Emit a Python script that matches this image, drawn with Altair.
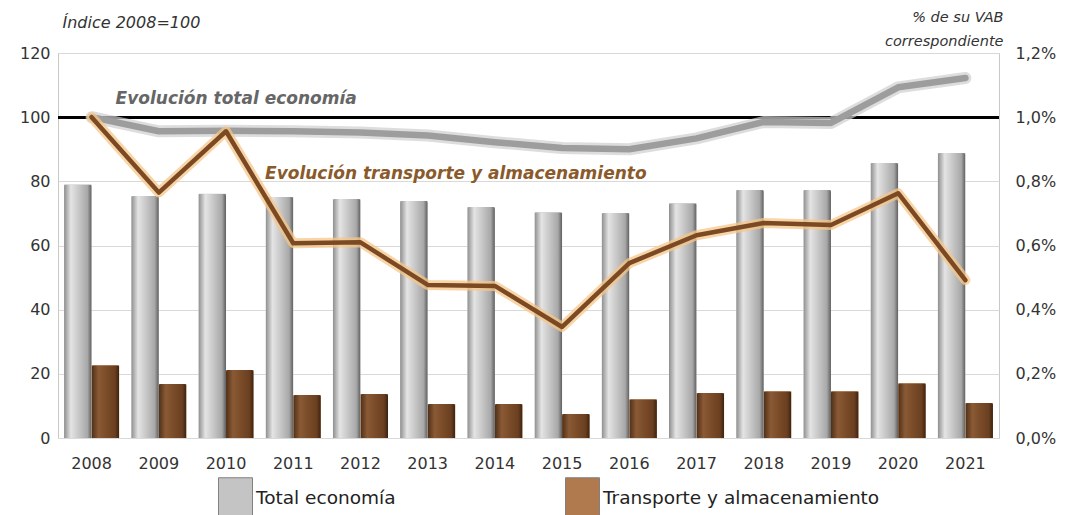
import altair as alt
import pandas as pd

# ---------------- data ----------------
years = [2008, 2009, 2010, 2011, 2012, 2013, 2014, 2015, 2016, 2017, 2018, 2019, 2020, 2021]
# % of its corresponding GVA (right axis, bars)
total_pct = [0.79, 0.754, 0.761, 0.751, 0.745, 0.739, 0.72, 0.704, 0.701, 0.732, 0.773, 0.773, 0.857, 0.888]
transp_pct = [0.227, 0.168, 0.212, 0.134, 0.137, 0.106, 0.106, 0.075, 0.121, 0.14, 0.146, 0.146, 0.171, 0.109]
# Index 2008=100 (left axis, lines)
total_idx = [100, 95.6, 95.8, 95.6, 95.2, 94.3, 92.2, 90.4, 90.0, 93.4, 98.5, 98.2, 109.3, 112.2]
transp_idx = [100, 76.5, 95.6, 60.7, 61.0, 47.7, 47.4, 34.6, 54.5, 63.2, 67.0, 66.4, 76.3, 49.2]

series_names = ["Total economía", "Transporte y almacenamiento"]
ann_labels = ["Evolución total economía", "Evolución transporte y almacenamiento"]
ann_years = [2008, 2010]
ann_values = [105.8, 82.3]

FONT = "DejaVu Sans"

bars_df = pd.DataFrame({
    "year": years * 2,
    "serie": [series_names[0]] * len(years) + [series_names[1]] * len(years),
    "value": total_pct + transp_pct,
})
tot_line = pd.DataFrame({"year": years, "idx": total_idx})
tr_line = pd.DataFrame({"year": years, "idx": transp_idx})
ann1 = pd.DataFrame({"year": [ann_years[0]], "idx": [ann_values[0]], "label": [ann_labels[0]]})
ann2 = pd.DataFrame({"year": [ann_years[1]], "idx": [ann_values[1]], "label": [ann_labels[1]]})

# ---------------- shared encodings ----------------
x_enc = alt.X("year:O", title=None,
              scale=alt.Scale(paddingInner=0.18, paddingOuter=0.09),
              axis=alt.Axis(labelAngle=0, ticks=False, domain=False, labelFont=FONT,
                            labelFontSize=16, labelColor="#333333", labelPadding=17))
xoff = alt.XOffset("serie:N", sort=series_names,
                   scale=alt.Scale(domain=series_names, paddingInner=0))

right_axis = alt.Axis(orient="right", values=[0, 0.2, 0.4, 0.6, 0.8, 1.0, 1.2], grid=False,
                      ticks=False, domain=False, labelFont=FONT, labelFontSize=16,
                      labelColor="#333333", labelPadding=16,
                      labelExpr="replace(format(datum.value, '.1f'), '.', ',') + '%'",
                      title=["% de su VAB", "correspondiente"], titleAngle=0,
                      titleAlign="right", titleBaseline="top", titleX=4, titleY=-43,
                      titleFont=FONT, titleFontSize=14.5, titleFontStyle="italic",
                      titleFontWeight="normal", titleColor="#333333", titleLineHeight=24)
y_bar = alt.Y("value:Q", scale=alt.Scale(domain=[0, 1.2]), axis=right_axis)

left_axis = alt.Axis(orient="left", values=[0, 20, 40, 60, 80, 100, 120], grid=True,
                     gridColor="#d9d9d9", gridWidth=1, ticks=False, domain=False,
                     labelFont=FONT, labelFontSize=16, labelColor="#333333", labelPadding=8,
                     title="Índice 2008=100", titleAngle=0, titleAlign="left",
                     titleBaseline="middle", titleX=4, titleY=-31, titleFont=FONT,
                     titleFontSize=16, titleFontStyle="italic", titleFontWeight="normal",
                     titleColor="#333333")
y_line = alt.Y("idx:Q", scale=alt.Scale(domain=[0, 120]), axis=left_axis)

# ---------------- bars ----------------
legend_path = "M-0.85,-1H0.85V1H-0.85Z"
base_bars = alt.Chart(bars_df).mark_bar().encode(
    x=x_enc, xOffset=xoff, y=y_bar,
    color=alt.Color("serie:N", sort=series_names,
                    scale=alt.Scale(domain=series_names, range=["#c4c4c4", "#b07a4e"]),
                    legend=alt.Legend(orient="none", legendX=157, legendY=424,
                                      direction="horizontal", title=None,
                                      symbolType=legend_path, symbolSize=1600,
                                      symbolStrokeColor="#808080", symbolStrokeWidth=1,
                                      labelFont=FONT, labelFontSize=18.5, labelColor="#222222",
                                      labelLimit=0, labelOffset=0, columnPadding=166,
                                      padding=0)),
)

gray_grad = {"gradient": "linear", "x1": 0, "x2": 1, "y1": 0, "y2": 0,
             "stops": [{"offset": 0, "color": "#8e8e8e"},
                       {"offset": 0.25, "color": "#e4e4e4"},
                       {"offset": 0.55, "color": "#c6c6c6"},
                       {"offset": 0.85, "color": "#a8a8a8"},
                       {"offset": 1, "color": "#5e5e5e"}]}
brown_grad = {"gradient": "linear", "x1": 0, "x2": 1, "y1": 0, "y2": 0,
              "stops": [{"offset": 0, "color": "#4e2f18"},
                        {"offset": 0.25, "color": "#8a5a35"},
                        {"offset": 0.55, "color": "#7a4b28"},
                        {"offset": 0.85, "color": "#6a3f20"},
                        {"offset": 1, "color": "#3b2210"}]}

gray_bars = alt.Chart(bars_df).transform_filter(
    alt.datum.serie == series_names[0]
).mark_bar(fill=gray_grad, cornerRadiusTopLeft=2, cornerRadiusTopRight=2).encode(
    x=x_enc, xOffset=xoff, y=y_bar)
brown_bars = alt.Chart(bars_df).transform_filter(
    alt.datum.serie == series_names[1]
).mark_bar(fill=brown_grad, cornerRadiusTopLeft=2, cornerRadiusTopRight=2).encode(
    x=x_enc, xOffset=xoff, y=y_bar)

bars = alt.layer(base_bars, gray_bars, brown_bars)

# ---------------- lines ----------------
rule100 = alt.Chart(tot_line).mark_rule(color="#000000", strokeWidth=2.5).encode(
    y=alt.Y(datum=100, scale=alt.Scale(domain=[0, 120]), axis=left_axis))

gray_glow = alt.Chart(tot_line).mark_line(color="#cfcfcf", strokeWidth=12, opacity=0.7,
                                          strokeCap="round", strokeJoin="round").encode(
    x=x_enc, y=y_line)
gray_ln = alt.Chart(tot_line).mark_line(color="#9d9d9d", strokeWidth=6.5,
                                        strokeCap="round", strokeJoin="round").encode(
    x=x_enc, y=y_line)
brown_glow = alt.Chart(tr_line).mark_line(color="#f6c68a", strokeWidth=10, opacity=0.75,
                                          strokeCap="round", strokeJoin="round").encode(
    x=x_enc, y=y_line)
brown_ln = alt.Chart(tr_line).mark_line(color="#7b4a22", strokeWidth=4.5,
                                        strokeCap="round", strokeJoin="round").encode(
    x=x_enc, y=y_line)

text1 = alt.Chart(ann1).mark_text(align="left", baseline="middle", dx=24, font=FONT,
                                  fontSize=17, fontStyle="italic", fontWeight="bold",
                                  color="#666666").encode(x=x_enc, y=y_line, text="label:N")
text2 = alt.Chart(ann2).mark_text(align="left", baseline="middle", dx=39, font=FONT,
                                  fontSize=17, fontStyle="italic", fontWeight="bold",
                                  color="#8a5a2b").encode(x=x_enc, y=y_line, text="label:N")

lines = alt.layer(rule100, gray_glow, gray_ln, brown_glow, brown_ln, text1, text2)

chart = alt.layer(bars, lines).resolve_scale(y="independent").properties(
    width=941, height=385,
    autosize=alt.AutoSizeParams(type="none"),
    padding={"left": 50, "top": 45, "right": 58, "bottom": 77},
    background="white",
).configure_view(stroke="#c8c8c8", strokeWidth=1)

chart.save("out.html", embed_options={"renderer": "svg", "actions": False})
